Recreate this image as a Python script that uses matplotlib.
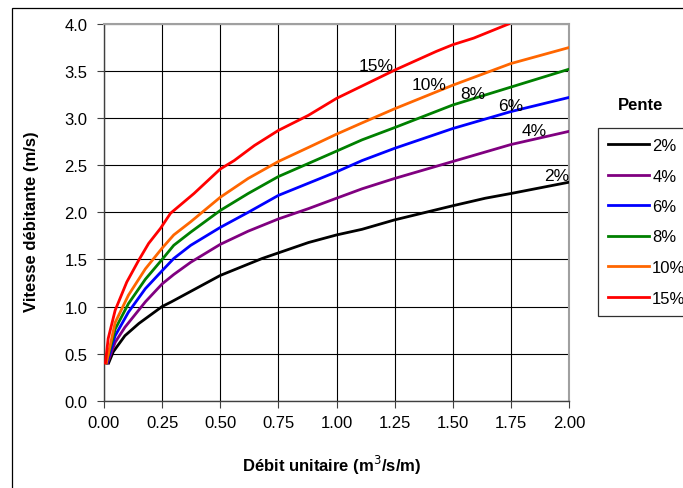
import matplotlib
matplotlib.use("Agg")
import matplotlib.pyplot as plt
from matplotlib.patches import Rectangle

plt.rcParams['font.family'] = ['Liberation Sans', 'DejaVu Sans']

# Débit unitaire (m3/s/m) et vitesse débitante (m/s), par pente
SLOPES = ['2%', '4%', '6%', '8%', '10%', '15%']
COLORS = ['#000000', '#800080', '#0000ff', '#008000', '#ff6600', '#ff0000']

q_2 = [0.02, 0.04, 0.09, 0.15, 0.25, 0.29, 0.5, 0.68, 0.88, 1.0, 1.11, 1.25, 1.5, 1.64, 1.75, 2.0]
v_2 = [0.40, 0.52, 0.69, 0.82, 1.00, 1.05, 1.33, 1.51, 1.68, 1.76, 1.82, 1.92, 2.07, 2.15, 2.20, 2.32]

q_4 = [0.015, 0.048, 0.09, 0.178, 0.25, 0.30, 0.373, 0.5, 0.62, 0.75, 0.88, 1.0, 1.11, 1.25, 1.5, 1.75, 2.0]
v_4 = [0.40, 0.62, 0.78, 1.05, 1.24, 1.34, 1.47, 1.66, 1.80, 1.93, 2.04, 2.15, 2.25, 2.36, 2.54, 2.72, 2.86]

q_6 = [0.012, 0.048, 0.105, 0.178, 0.25, 0.30, 0.373, 0.5, 0.62, 0.75, 0.88, 1.0, 1.11, 1.25, 1.5, 1.75, 2.0]
v_6 = [0.40, 0.69, 0.94, 1.19, 1.38, 1.51, 1.65, 1.84, 2.00, 2.18, 2.31, 2.43, 2.55, 2.68, 2.89, 3.07, 3.22]

q_8 = [0.01, 0.048, 0.105, 0.178, 0.25, 0.30, 0.373, 0.5, 0.62, 0.75, 0.88, 1.0, 1.11, 1.25, 1.5, 1.75, 2.0]
v_8 = [0.40, 0.76, 1.03, 1.29, 1.50, 1.65, 1.79, 2.02, 2.20, 2.38, 2.52, 2.65, 2.77, 2.90, 3.14, 3.33, 3.52]

q_10 = [0.01, 0.048, 0.105, 0.178, 0.25, 0.30, 0.373, 0.5, 0.62, 0.75, 0.88, 1.0, 1.11, 1.25, 1.5, 1.75, 2.0]
v_10 = [0.40, 0.83, 1.12, 1.40, 1.62, 1.76, 1.90, 2.16, 2.36, 2.54, 2.69, 2.83, 2.95, 3.10, 3.35, 3.58, 3.75]

q_15 = [0.006, 0.018, 0.048, 0.098, 0.149, 0.192, 0.243, 0.286, 0.387, 0.5, 0.56, 0.647, 0.75, 0.879,
        1.0, 1.25, 1.43, 1.5, 1.59, 1.74]
v_15 = [0.40, 0.66, 0.96, 1.26, 1.49, 1.67, 1.83, 1.99, 2.20, 2.46, 2.55, 2.71, 2.87, 3.03,
        3.21, 3.51, 3.71, 3.78, 3.85, 4.00]

Q = [q_2, q_4, q_6, q_8, q_10, q_15]
V = [v_2, v_4, v_6, v_8, v_10, v_15]

# positions des étiquettes de courbe (en coordonnées des données)
LABEL_X = [1.945, 1.85, 1.75, 1.585, 1.40, 1.17]
LABEL_Y = [2.39, 2.87, 3.13, 3.26, 3.36, 3.56]

X_TICKS = [0.0, 0.25, 0.5, 0.75, 1.0, 1.25, 1.5, 1.75, 2.0]
Y_TICKS = [0.0, 0.5, 1.0, 1.5, 2.0, 2.5, 3.0, 3.5, 4.0]

W, H = 683, 489
fig = plt.figure(figsize=(W / 100, H / 100), dpi=100)
ax = fig.add_axes([104 / W, 1 - 401.7 / H, (569 - 104) / W, (401.7 - 25) / H])

for q, v, c, s in zip(Q, V, COLORS, SLOPES):
    ax.plot(q, v, color=c, lw=2.0, label=s, solid_joinstyle='miter', zorder=3)

for x, y, s in zip(LABEL_X, LABEL_Y, SLOPES):
    ax.text(x, y, s, fontsize=12.5, ha='center', va='center', zorder=4)

ax.set_xlim(0, 2.0)
ax.set_ylim(0, 4.0)
ax.set_xticks(X_TICKS)
ax.set_yticks(Y_TICKS)
ax.set_xticklabels(['%.2f' % t for t in X_TICKS])
ax.set_yticklabels(['%.1f' % t for t in Y_TICKS])
ax.tick_params(labelsize=12, length=5, width=0.8, direction='out', color='#404040', pad=5)
ax.tick_params(axis='y', pad=7)
ax.grid(True, color='black', lw=0.8)
ax.set_axisbelow(True)
for side in ['left', 'bottom']:
    ax.spines[side].set_color('#404040')
    ax.spines[side].set_linewidth(1.0)
for side in ['top', 'right']:
    ax.spines[side].set_color('#a0a0a0')
    ax.spines[side].set_linewidth(1.5)

fig.text(332 / W, 1 - 465 / H, 'Débit unitaire (m$^3$/s/m)', fontsize=12, fontweight='bold',
         ha='center', va='center')
fig.text(32 / W, 1 - 222 / H, 'Vitesse débitante (m/s)', fontsize=12, fontweight='bold',
         ha='center', va='center', rotation=90)

fig.text(641 / W, 1 - 105 / H, 'Pente', fontsize=12, fontweight='bold', ha='center', va='center')
leg = fig.legend(loc='upper left', bbox_to_anchor=(598 / W, 1 - 129 / H), borderaxespad=0,
                 fontsize=12, handlelength=2.45, handletextpad=0.2, labelspacing=0.93,
                 borderpad=0.6, fancybox=False, framealpha=1, edgecolor='#303030')
leg.get_frame().set_linewidth(0.9)

fig.patches.append(Rectangle((12 / W, -0.1), 1.2, 1.1 - 9 / H, transform=fig.transFigure,
                             fill=False, lw=0.9, edgecolor='black'))

fig.savefig('out.png', dpi=100)
